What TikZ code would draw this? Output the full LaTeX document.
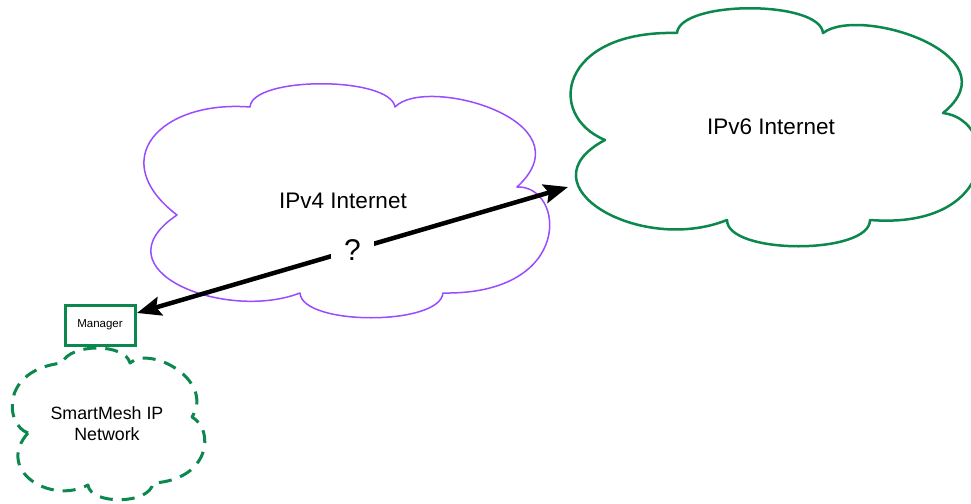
\documentclass[tikz,border=0pt]{standalone}
\usepackage{fontspec}
\setmainfont{Liberation Sans}
\usetikzlibrary{arrows.meta}
\definecolor{cloudpurple}{RGB}{153,76,255}
\definecolor{meshgreen}{RGB}{12,135,77}
\begin{document}
\begin{tikzpicture}[x=1pt,y=-1pt,
  v4cloud/.style={draw=cloudpurple,line width=1.5pt,line join=round},
  v6cloud/.style={draw=meshgreen,line width=2.5pt,line join=round},
  meshcloud/.style={draw=meshgreen,line width=3pt,dash pattern=on 13pt off 9pt,line join=round},
  mgrbox/.style={draw=meshgreen,line width=3pt,minimum width=70pt,minimum height=40pt,inner sep=0pt,font=\fontsize{11.5}{13}\selectfont},
  cloudlabel/.style={font=\fontsize{22.5}{26}\selectfont},
  bigarrow/.style={line width=4.5pt,{Stealth[length=24pt,width=19pt,inset=4pt]}-{Stealth[length=24pt,width=19pt,inset=4pt]}},
  qlabel/.style={fill=white,inner xsep=13pt,inner ysep=2pt,font=\fontsize{30}{34}\selectfont}]
\useasboundingbox (0,0) rectangle (971,503);
\clip (0,0) rectangle (971,503);
\fill[white] (0,0) rectangle (971,503);
% IPv4 cloud
\path[v4cloud] (177,215) .. controls (105,160) and (160,100) .. (250,107)
  .. controls (252,76) and (390,76) .. (395,107)
  .. controls (425,75) and (590,120) .. (517,187)
  .. controls (565,185) and (575,295) .. (443,293)
  .. controls (440,326) and (302,326) .. (300,293)
  .. controls (225,322) and (95,270) .. (177,215) -- cycle;
% IPv6 cloud
\path[v6cloud] (605,140) .. controls (545,115) and (560,30) .. (677,33)
  .. controls (680,0) and (820,0) .. (823,33)
  .. controls (860,5) and (1015,55) .. (943,113)
  .. controls (1000,120) and (1000,230) .. (870,220)
  .. controls (870,255) and (727,255) .. (727,220)
  .. controls (640,255) and (520,185) .. (605,140) -- cycle;
% SmartMesh cloud
\path[meshcloud] (28,433) .. controls (5,425) and (0,370) .. (62,363)
  .. controls (70,343) and (125,343) .. (130,363)
  .. controls (150,345) and (215,380) .. (192,417)
  .. controls (215,430) and (210,480) .. (153,483)
  .. controls (150,505) and (90,505) .. (88,485)
  .. controls (50,505) and (-5,470) .. (28,433) -- cycle;
% labels
\node[cloudlabel] (v4) at (343,201) {IPv4 Internet};
\node[cloudlabel] (v6) at (771,127) {IPv6 Internet};
\node[align=center,font=\fontsize{17.8}{21}\selectfont] (mesh) at (107,424) {SmartMesh IP\\Network};
\node[mgrbox] (mgr) at (100,325) {Manager};
% connector
\coordinate (mgrin) at (137,313);
\coordinate (v6in) at (568,187);
\draw[bigarrow] (mgrin) -- node[qlabel] (q) {?} (v6in);
\end{tikzpicture}
\end{document}
